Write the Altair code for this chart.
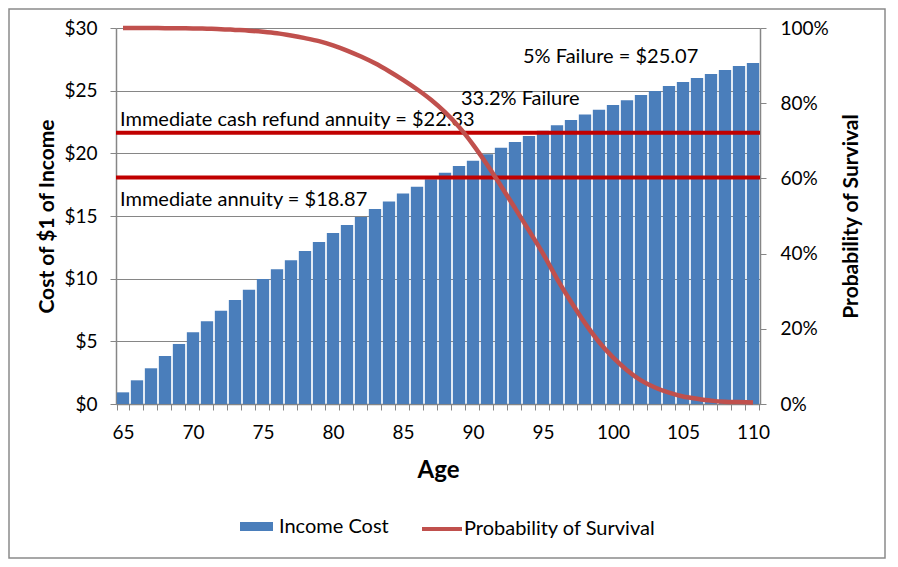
import altair as alt
import pandas as pd

ages = list(range(65, 111))
income_cost = [0.93, 1.89, 2.85, 3.83, 4.79, 5.72, 6.60, 7.45, 8.30, 9.12,
               9.97, 10.75, 11.47, 12.21, 12.93, 13.65, 14.29, 14.93, 15.56, 16.15,
               16.80, 17.34, 17.93, 18.46, 18.99, 19.41, 19.92, 20.45, 20.90, 21.38,
               21.81, 22.24, 22.66, 23.09, 23.48, 23.86, 24.23, 24.65, 24.97, 25.37,
               25.69, 26.01, 26.33, 26.65, 26.97, 27.21]
survival = [1.000, 1.000, 0.9998, 0.9996, 0.9993, 0.999, 0.998, 0.997, 0.995, 0.993,
            0.990, 0.986, 0.980, 0.973, 0.965, 0.954, 0.940, 0.924, 0.906, 0.885,
            0.862, 0.837, 0.809, 0.776, 0.737, 0.690, 0.637, 0.580, 0.521, 0.461,
            0.400, 0.333, 0.272, 0.215, 0.165, 0.124, 0.090, 0.063, 0.044, 0.030,
            0.020, 0.014, 0.009, 0.006, 0.005, 0.004]
series_names = ["Income Cost", "Probability of Survival"]
cost_ticks = [0, 5, 10, 15, 20, 25, 30]
pct_ticks = [0, 0.2, 0.4, 0.6, 0.8, 1.0]

# reference lines (drawn positions) and annotation texts
ref_lines = [21.65, 18.07]
ann_texts = ["Immediate cash refund annuity = $22.33", "Immediate annuity = $18.87",
             "33.2% Failure", "5% Failure = $25.07"]
ann_ages = [65, 65, 89, 94]
ann_costs = [22.18, 15.8, 23.86, 27.23]
ann_dx = [-3, -3, 2, -6]

FONT = "Lato"
GREY = "#868686"

df = pd.DataFrame({"age": ages, "cost": income_cost, "survival": survival,
                   "s1": series_names[0], "s2": series_names[1]})
one = pd.DataFrame({"a": [0]})

x_enc = alt.X("age:O", title="Age",
              scale=alt.Scale(paddingInner=0.12, paddingOuter=0.06),
              axis=alt.Axis(labelAngle=0, tickBand="extent",
                            labelExpr="datum.value % 5 == 0 ? datum.label : ''",
                            labelOverlap=False, tickSize=6, tickColor=GREY,
                            domainColor=GREY, domainWidth=1.5, labelPadding=13,
                            labelFont=FONT, labelFontSize=19, labelColor="black",
                            titleFont=FONT, titleFontSize=24, titleFontWeight="bold",
                            titleBaseline="alphabetic", titleY=73, titleX=322,
                            titleColor="black"))

bars = alt.Chart(df).mark_bar().encode(
    x=x_enc,
    y=alt.Y("cost:Q", title="Cost of $1 of Income",
            scale=alt.Scale(domain=[0, 30]),
            axis=alt.Axis(values=cost_ticks, labelExpr="'$' + datum.value",
                          grid=True, gridColor=GREY, gridWidth=1,
                          tickSize=6, tickColor=GREY, domainColor=GREY, domainWidth=1.5,
                          labelPadding=13, labelFont=FONT, labelFontSize=19,
                          labelColor="black", titleFont=FONT, titleFontSize=21,
                          titleFontWeight="bold", titleAngle=270,
                          titleBaseline="alphabetic", titleX=-63, titleY=188,
                          titleColor="black")),
    color=alt.Color("s1:N", scale=alt.Scale(domain=[series_names[0]], range=["#4a7ebb"]),
                    legend=alt.Legend(orient="none", legendX=124, legendY=482, title=None,
                                      symbolType="M-1,-0.27L1,-0.27L1,0.27L-1,0.27Z",
                                      symbolSize=1089, symbolStrokeWidth=0,
                                      labelFont=FONT, labelFontSize=20, labelColor="black",
                                      labelOffset=6, labelLimit=0, padding=0)),
)

rules = alt.Chart(pd.DataFrame({"v": ref_lines})).mark_rule(
    color="#c00000", strokeWidth=4).encode(y="v:Q")

texts = []
for t, a, c, d in zip(ann_texts, ann_ages, ann_costs, ann_dx):
    texts.append(alt.Chart(one).mark_text(
        align="left", baseline="alphabetic", font=FONT, fontSize=20,
        color="black", dx=d).encode(
        x=alt.X(datum=a, type="ordinal"), y=alt.Y(datum=c), text=alt.value(t)))

border = alt.Chart(one).mark_rect(fill="white", fillOpacity=0, stroke="#8a8a8a",
                                   strokeWidth=1.5).encode(
    x=alt.value(-107), x2=alt.value(769), y=alt.value(-19), y2=alt.value(530))

left = alt.layer(bars, rules, *texts)

line = alt.Chart(df).mark_line(strokeWidth=4.5, interpolate="monotone").encode(
    x=alt.X("age:O"),
    y=alt.Y("survival:Q", title="Probability of Survival",
            scale=alt.Scale(domain=[0, 1]),
            axis=alt.Axis(orient="right", values=pct_ticks, format=".0%", grid=False,
                          tickSize=6, tickColor=GREY, domainColor=GREY, domainWidth=1.5,
                          labelPadding=14, labelFont=FONT, labelFontSize=19,
                          labelColor="black", titleFont=FONT, titleFontSize=21,
                          titleFontWeight="bold", titleAngle=270,
                          titleBaseline="alphabetic", titleX=97, titleY=188,
                          titleColor="black")),
    stroke=alt.Stroke("s2:N", scale=alt.Scale(domain=[series_names[1]], range=["#c0504d"]),
                      legend=alt.Legend(orient="none", legendX=304, legendY=479, title=None,
                                        symbolType="stroke", symbolSize=1600,
                                        symbolStrokeWidth=4,
                                        labelFont=FONT, labelFontSize=20, labelColor="black",
                                        labelOffset=0, labelLimit=0, padding=0)),
)

chart = alt.layer(border, left, line).resolve_scale(y="independent").properties(
    width=644, height=376,
    autosize=alt.AutoSizeParams(type="none"),
    padding={"left": 108, "top": 20, "right": 126, "bottom": 155},
    background="white",
).configure_view(strokeWidth=0)

chart.save("out.html", embed_options={"renderer": "svg", "actions": False})
